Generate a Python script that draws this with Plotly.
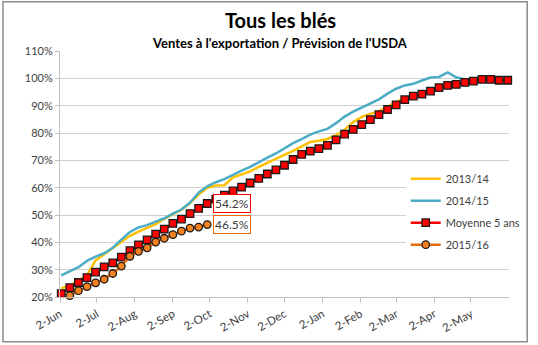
import pandas as pd
import plotly.graph_objects as go

# weekly dates of the marketing year
weeks = pd.date_range("2015-06-03", periods=53, freq="7D")

tick_dates = ["2015-06-02", "2015-07-02", "2015-08-02", "2015-09-02", "2015-10-02",
              "2015-11-02", "2015-12-02", "2016-01-02", "2016-02-02", "2016-03-02",
              "2016-04-02", "2016-05-02"]
tick_labels = ["2-Jun", "2-Jul", "2-Aug", "2-Sep", "2-Oct", "2-Nov", "2-Dec",
               "2-Jan", "2-Feb", "2-Mar", "2-Apr", "2-May"]

s_2013_14 = [23.1, 24.3, 25.9, 27.9, 33.4, 35.7, 38.1, 40.4, 42.4, 43.9,
             45.2, 46.7, 48.6, 50.2, 51.9, 54.4, 57.5, 60.0, 60.8, 60.9,
             63.8, 64.8, 66.0, 67.6, 69.0, 70.6, 72.0, 73.5, 75.2, 76.7,
             77.2, 77.8, 79.2, 81.2, 84.0, 85.9, 87.0, 88.0, 89.7, 91.3,
             92.8, 93.6, 94.4, 95.5, 96.6, 97.4, 97.9, 98.5, 99.0, 99.5,
             99.6, 99.3, 99.3]

s_2014_15 = [27.9, 29.3, 30.9, 33.2, 34.8, 36.0, 38.0, 41.0, 43.8, 45.5,
             46.3, 47.6, 48.8, 50.5, 52.0, 54.5, 58.2, 60.5, 62.0, 63.1,
             64.8, 66.2, 67.6, 69.4, 71.0, 72.5, 74.4, 76.3, 77.8, 79.4,
             80.6, 81.5, 83.6, 86.0, 87.8, 89.3, 90.6, 92.3, 94.4, 96.2,
             97.4, 98.0, 99.2, 100.3, 100.5, 102.2, 100.4, 99.6, 99.6, 100.1,
             99.8, 99.6, 99.6]

s_moy5 = [21.2, 23.4, 25.3, 27.1, 29.1, 31.0, 32.5, 34.6, 37.0, 39.1,
          40.9, 43.0, 44.8, 46.9, 48.5, 50.5, 52.4, 54.2, 55.8, 57.3,
          58.8, 60.2, 61.7, 63.4, 65.0, 66.5, 68.2, 70.3, 72.2, 73.4,
          74.3, 75.5, 77.5, 79.6, 81.3, 83.1, 84.9, 86.7, 88.6, 90.3,
          92.2, 93.5, 94.2, 95.3, 96.6, 97.4, 97.8, 98.5, 99.0, 99.6,
          99.6, 99.3, 99.3]

s_2015_16 = [None, 20.5, 22.3, 23.8, 25.2, 26.5, 28.6, 31.3, 34.9, 36.7,
             38.0, 40.1, 41.5, 42.8, 44.1, 45.2, 45.6, 46.5]

FONT = "Lato"
TXT = "#404040"

fig = go.Figure()
fig.add_trace(go.Scatter(x=weeks, y=s_2013_14, name="2013/14", mode="lines",
                         line=dict(color="#FFC000", width=2.5), legendgroup="a"))
fig.add_trace(go.Scatter(x=weeks, y=s_2014_15, name="2014/15", mode="lines",
                         line=dict(color="#4BACC6", width=2.5), legendgroup="b"))
fig.add_trace(go.Scatter(x=weeks, y=s_moy5, name="Moyenne 5 ans", mode="lines+markers",
                         line=dict(color="#FF0000", width=2.5),
                         marker=dict(symbol="square", size=7.5, color="#FF0000",
                                     line=dict(color="#1a1a1a", width=1.3)),
                         cliponaxis=False, legendgroup="c"))
fig.add_trace(go.Scatter(x=weeks[:len(s_2015_16)], y=s_2015_16, name="2015/16",
                         mode="lines+markers",
                         line=dict(color="#E46C0A", width=2.5),
                         marker=dict(symbol="circle", size=7.5, color="#F58220",
                                     line=dict(color="#1a1a1a", width=1.3)),
                         cliponaxis=False, legendgroup="d"))

last_i = len(s_2015_16) - 1
fig.add_annotation(x=weeks[last_i], y=s_moy5[last_i], text=f"{s_moy5[last_i]:.1f}%",
                   xanchor="left", yanchor="middle", xshift=6, showarrow=False,
                   font=dict(family=FONT, size=12, color=TXT),
                   bgcolor="white", bordercolor="#FF0000", borderwidth=1, borderpad=1)
fig.add_annotation(x=weeks[last_i], y=s_2015_16[last_i], text=f"{s_2015_16[last_i]:.1f}%",
                   xanchor="left", yanchor="middle", xshift=6, showarrow=False,
                   font=dict(family=FONT, size=12, color=TXT),
                   bgcolor="white", bordercolor="#E46C0A", borderwidth=1, borderpad=1)

# titles
fig.add_annotation(xref="paper", yref="paper", x=0.49, y=1.124, text="<b>Tous les blés</b>",
                   showarrow=False, xanchor="center", yanchor="middle",
                   font=dict(family=FONT, size=20, color="black"))
fig.add_annotation(xref="paper", yref="paper", x=0.49, y=1.031,
                   text="<b>Ventes à l'exportation / Prévision de l'USDA</b>",
                   showarrow=False, xanchor="center", yanchor="middle",
                   font=dict(family=FONT, size=13, color="black"))

# outer chart border
fig.add_shape(type="rect", xref="paper", yref="paper",
              x0=-0.127, x1=1.0405, y0=-0.1815, y1=1.2, line=dict(color="#8c8c8c", width=1.5))

fig.update_layout(
    width=538, height=345,
    margin=dict(l=60, r=21, t=51, b=48),
    paper_bgcolor="white", plot_bgcolor="white",
    font=dict(family=FONT, size=11, color=TXT),
    showlegend=True,
    legend=dict(x=0.77, xanchor="left", y=0.54, yanchor="top",
                bgcolor="white", borderwidth=0, traceorder="grouped",
                tracegroupgap=3, font=dict(family=FONT, size=11, color=TXT)),
    xaxis=dict(type="date", range=["2015-06-02", "2016-06-02"],
               tickvals=tick_dates, ticktext=tick_labels, tickangle=-30,
               showgrid=False, showline=True, linecolor="#BFBFBF", linewidth=1,
               ticks="outside", ticklen=5, tickcolor="#BFBFBF",
               tickfont=dict(family=FONT, size=11.5, color=TXT)),
    yaxis=dict(range=[20, 110], dtick=10, ticksuffix="%",
               showgrid=True, gridcolor="#D0D0D0", gridwidth=1,
               showline=True, linecolor="#BFBFBF", linewidth=1,
               ticks="outside", ticklen=4, tickcolor="#BFBFBF",
               zeroline=False,
               tickfont=dict(family=FONT, size=11, color=TXT)),
)

fig.write_html("out.html")
